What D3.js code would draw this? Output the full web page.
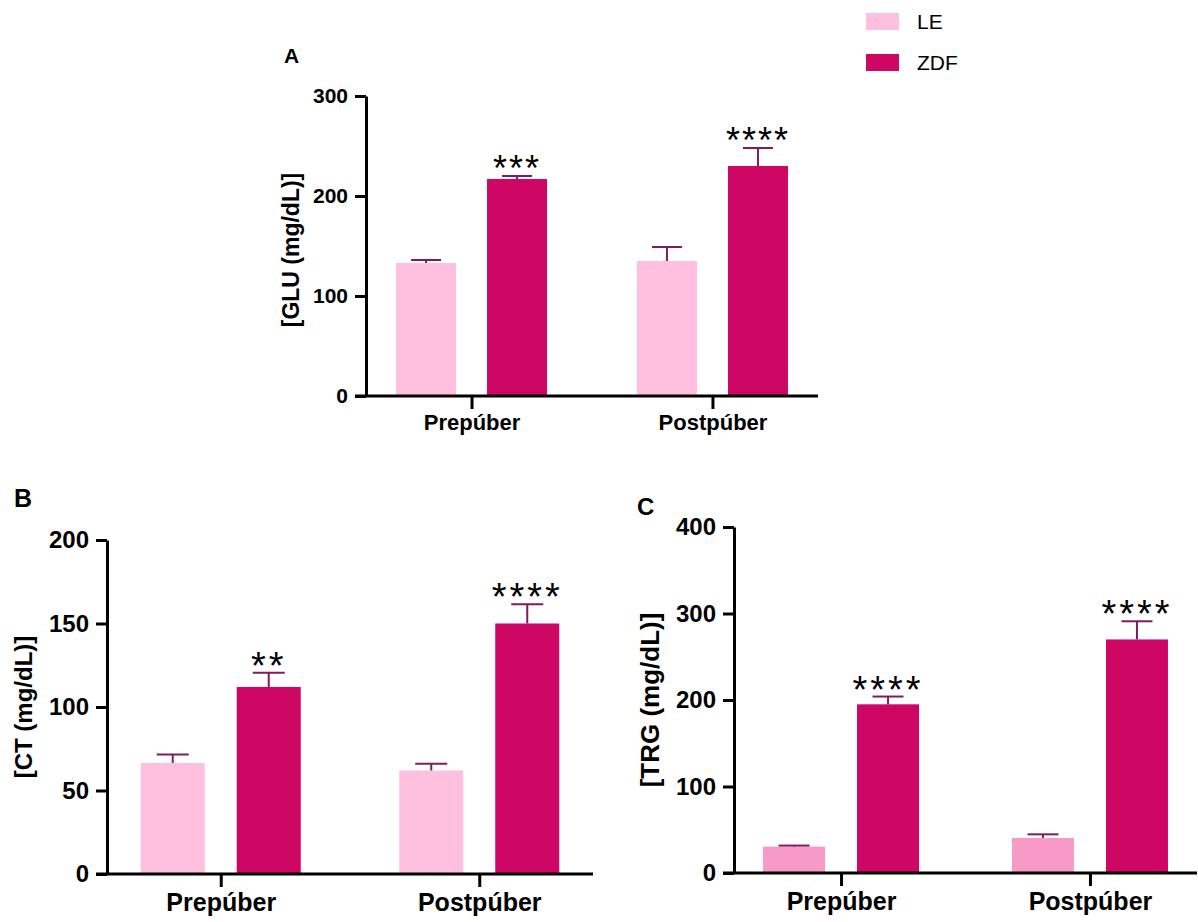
<!DOCTYPE html>
<html>
<head>
<meta charset="utf-8">
<script src="https://cdn.jsdelivr.net/npm/d3@7/dist/d3.min.js"></script>
<style>
  html, body { margin: 0; padding: 0; background: #ffffff; }
  svg { display: block; }
  text { font-family: "Liberation Sans", Arial, sans-serif; }
</style>
</head>
<body>
<svg id="chart" width="1198" height="922"></svg>
<script>
// ---------- data ----------
const groups = ["Prepúber", "Postpúber"];
const seriesNames = ["LE", "ZDF"];

// Panel A: glucose
const gluLE = [133, 135];
const gluLEsem = [3, 14];
const gluZDF = [217, 230];
const gluZDFsem = [3, 18];
const gluStars = ["***", "****"];
const gluTicks = [0, 100, 200, 300];

// Panel B: total cholesterol
const ctLE = [66.5, 62];
const ctLEsem = [5, 4];
const ctZDF = [112, 150];
const ctZDFsem = [8.5, 11.5];
const ctStars = ["**", "****"];
const ctTicks = [0, 50, 100, 150, 200];

// Panel C: triglycerides
const trgLE = [30.5, 40.5];
const trgLEsem = [1.2, 4.2];
const trgZDF = [195, 270];
const trgZDFsem = [9, 21];
const trgStars = ["****", "****"];
const trgTicks = [0, 100, 200, 300, 400];

// ---------- styles ----------
const colLE = "#FFC0DF";
const colLEc = "#F89AC7";
const colZDF = "#CD0763";
const colErr = "#7d1d5f";

const svg = d3.select("#chart");

function panel(cfg) {
  const g = svg.append("g");
  const x = d3.scalePoint().domain(groups).range([cfg.x0, cfg.x1]).padding(cfg.pad);
  const y = d3.scaleLinear().domain([0, d3.max(cfg.ticks)]).range([cfg.y0, cfg.y1]);

  const rows = groups.map((grp, i) => ([
    { grp, s: 0, v: cfg.le[i], e: cfg.leSem[i], c: cfg.leColor },
    { grp, s: 1, v: cfg.zdf[i], e: cfg.zdfSem[i], c: colZDF, star: cfg.stars[i] }
  ])).flat();

  const cx = d => x(d.grp) + (d.s === 0 ? -cfg.off : cfg.off);

  // bars
  g.selectAll("rect.bar").data(rows).join("rect")
    .attr("class", "bar")
    .attr("x", d => cx(d) - cfg.bw / 2)
    .attr("width", cfg.bw)
    .attr("y", d => y(d.v))
    .attr("height", d => y(0) - y(d.v))
    .attr("fill", d => d.c);

  // error bars (upper only)
  g.selectAll("line.ev").data(rows).join("line")
    .attr("x1", cx).attr("x2", cx)
    .attr("y1", d => y(d.v)).attr("y2", d => y(d.v + d.e))
    .attr("stroke", colErr).attr("stroke-width", 2);
  g.selectAll("line.ec").data(rows).join("line")
    .attr("x1", d => cx(d) - cfg.bw / 4).attr("x2", d => cx(d) + cfg.bw / 4)
    .attr("y1", d => y(d.v + d.e)).attr("y2", d => y(d.v + d.e))
    .attr("stroke", colErr).attr("stroke-width", 2);

  // stars
  g.selectAll("text.star").data(rows.filter(d => d.star)).join("text")
    .attr("x", cx)
    .attr("y", d => y(d.v + d.e) - 9 + cfg.starFs * 0.40)
    .attr("text-anchor", "middle")
    .attr("font-size", cfg.starFs)
    .attr("letter-spacing", cfg.starLs)
    .attr("fill", "#000")
    .text(d => d.star);

  // axes
  const yAxis = d3.axisLeft(y).tickValues(cfg.ticks).tickSize(11).tickSizeOuter(0).tickPadding(7);
  const ya = g.append("g").attr("transform", `translate(${cfg.x0},0)`).call(yAxis);
  ya.select(".domain").attr("stroke", "#000").attr("stroke-width", 3);
  ya.selectAll(".tick line").attr("stroke", "#000").attr("stroke-width", 3);
  ya.selectAll(".tick text").attr("font-size", cfg.tickFs).attr("font-weight", "bold")
    .attr("fill", "#000").attr("font-family", "'Liberation Sans', Arial, sans-serif");

  const xAxis = d3.axisBottom(x).tickSize(13).tickSizeOuter(0).tickPadding(cfg.xPad);
  const xa = g.append("g").attr("transform", `translate(0,${cfg.y0})`).call(xAxis);
  xa.select(".domain").attr("stroke", "#000").attr("stroke-width", 3)
    .attr("d", `M${cfg.x0 - 11},0H${cfg.x1}`);
  xa.selectAll(".tick line").attr("stroke", "#000").attr("stroke-width", 3);
  xa.selectAll(".tick text").attr("font-size", cfg.xFs).attr("font-weight", "bold")
    .attr("fill", "#000").attr("font-family", "'Liberation Sans', Arial, sans-serif");

  // y title
  g.append("text")
    .attr("transform", `translate(${cfg.tx},${cfg.ty}) rotate(-90)`)
    .attr("text-anchor", "middle").attr("dy", "0.35em")
    .attr("font-size", cfg.titleFs).attr("font-weight", "bold")
    .text(cfg.title);

  // panel letter
  g.append("text").attr("x", cfg.lx).attr("y", cfg.ly)
    .attr("font-size", cfg.letterFs).attr("font-weight", "bold").text(cfg.letter);
}

panel({
  le: gluLE, leSem: gluLEsem, zdf: gluZDF, zdfSem: gluZDFsem, stars: gluStars, ticks: gluTicks,
  leColor: colLE, title: "[GLU (mg/dL)]", letter: "A",
  x0: 366, x1: 818, pad: 0.438, y0: 396, y1: 96, bw: 60, off: 45.5,
  tickFs: 21, xFs: 22, xPad: 5, titleFs: 23, tx: 291, ty: 250,
  lx: 284, ly: 63, letterFs: 21, starFs: 36, starLs: 2
});

panel({
  le: ctLE, leSem: ctLEsem, zdf: ctZDF, zdfSem: ctZDFsem, stars: ctStars, ticks: ctTicks,
  leColor: colLE, title: "[CT (mg/dL)]", letter: "B",
  x0: 107, x1: 593, pad: 0.44, y0: 874, y1: 540, bw: 64, off: 48,
  tickFs: 24, xFs: 25, xPad: 6, titleFs: 24, tx: 24, ty: 707,
  lx: 14, ly: 507, letterFs: 25, starFs: 38, starLs: 3
});

panel({
  le: trgLE, leSem: trgLEsem, zdf: trgZDF, zdfSem: trgZDFsem, stars: trgStars, ticks: trgTicks,
  leColor: colLEc, title: "[TRG (mg/dL)]", letter: "C",
  x0: 734, x1: 1197, pad: 0.43, y0: 873, y1: 527, bw: 62, off: 47,
  tickFs: 24, xFs: 25, xPad: 6, titleFs: 26, tx: 650, ty: 700,
  lx: 637, ly: 515, letterFs: 24, starFs: 38, starLs: 3
});

// legend
const legColors = [colLE, colZDF];
const leg = svg.append("g");
leg.selectAll("rect").data(seriesNames).join("rect")
  .attr("x", 866).attr("y", (d, i) => 13 + i * 41)
  .attr("width", 33).attr("height", 17)
  .attr("fill", (d, i) => legColors[i]);
leg.selectAll("text").data(seriesNames).join("text")
  .attr("x", 917).attr("y", (d, i) => 22 + i * 41)
  .attr("dy", "0.35em").attr("font-size", 21).attr("fill", "#000")
  .text(d => d);
</script>
</body>
</html>
